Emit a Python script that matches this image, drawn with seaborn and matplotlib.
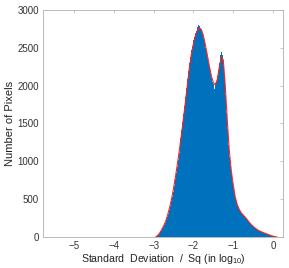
"""Histogram of log10 standard deviation / Sq with fitted curve."""

import matplotlib
matplotlib.use("Agg")
import matplotlib.pyplot as plt
import numpy as np
import pandas as pd
import seaborn as sns

# Histogram: bin edges (width 0.025) and counts per bin
bin_start = -2.95
bin_width = 0.025
counts = [
    5, 12, 25, 40, 60, 82, 105, 132, 158, 190,
    222, 262, 305, 360, 412, 470, 530, 600, 676, 760,
    840, 930, 1020, 1115, 1210, 1310, 1410, 1520, 1625, 1735,
    1850, 1965, 2085, 2190, 2300, 2380, 2470, 2520, 2600, 2640,
    2700, 2720, 2770, 2800, 2790, 2760, 2730, 2680, 2630, 2580,
    2500, 2440, 2370, 2300, 2230, 2160, 2100, 2050, 2020, 1960,
    2030, 2060, 2130, 2210, 2300, 2400, 2450, 2410, 2260, 2110,
    1880, 1640, 1420, 1220, 1060, 940, 830, 730, 640, 570,
    500, 455, 415, 380, 355, 330, 312, 298, 283, 270,
    254, 238, 222, 204, 188, 172, 158, 146, 134, 123,
    112, 102, 94, 86, 79, 73, 67, 61, 55, 50,
    45, 40, 35, 30, 25, 20, 15, 11, 7, 5,
    3, 2, 1,
]

# Fitted curve (red)
fit_x = [
    -2.95, -2.90, -2.85, -2.80, -2.75, -2.70, -2.65, -2.60, -2.55, -2.50,
    -2.45, -2.40, -2.35, -2.30, -2.25, -2.20, -2.15, -2.10, -2.05, -2.00,
    -1.95, -1.90, -1.85, -1.80, -1.75, -1.70, -1.65, -1.60, -1.55, -1.50,
    -1.45, -1.40, -1.35, -1.30, -1.25, -1.20, -1.15, -1.10, -1.05, -1.00,
    -0.95, -0.90, -0.85, -0.80, -0.75, -0.70, -0.65, -0.60, -0.55, -0.50,
    -0.45, -0.40, -0.35, -0.30, -0.25, -0.20, -0.15, -0.10, -0.05, 0.00,
    0.05, 0.10,
]
fit_y = [
    0, 18, 50, 95, 145, 205, 285, 385, 500, 640,
    800, 975, 1160, 1360, 1570, 1790, 2020, 2240, 2420, 2550,
    2660, 2730, 2760, 2740, 2660, 2540, 2400, 2260, 2130, 2040,
    2010, 2080, 2240, 2380, 2340, 2000, 1550, 1150, 880, 690,
    530, 430, 365, 320, 290, 262, 230, 195, 165, 140,
    118, 97, 82, 70, 58, 48, 38, 28, 18, 10,
    4, 0,
]

x_ticks = [-5, -4, -3, -2, -1, 0]
y_ticks = [0, 500, 1000, 1500, 2000, 2500, 3000]

sns.set_style("white")
plt.rcParams.update({
    "font.family": ["Liberation Sans", "DejaVu Sans"],
    "mathtext.fontset": "custom",
    "mathtext.rm": "Liberation Sans",
    "mathtext.it": "Liberation Sans",
    "font.size": 7,
})

edges = np.round(bin_start + bin_width * np.arange(len(counts) + 1), 4)
hist_df = pd.DataFrame({
    "value": (edges[:-1] + edges[1:]) / 2,
    "count": counts,
})
fit_df = pd.DataFrame({"x": fit_x, "y": fit_y})

fig = plt.figure(figsize=(2.89, 2.68), dpi=100)
ax = fig.add_axes([0.149, 0.116, 0.830, 0.847])

sns.histplot(data=hist_df, x="value", weights="count", bins=list(edges),
             element="step", fill=True, color="#0072BD", alpha=1,
             linewidth=0, ax=ax)
sns.lineplot(data=fit_df, x="x", y="y", color="#FF2020", linewidth=0.8, ax=ax)

ax.set_xlim(-5.78, 0.25)
ax.set_ylim(0, 3000)
ax.set_xticks(x_ticks)
ax.set_yticks(y_ticks)
ax.tick_params(direction="in", length=2.5, width=0.5, top=True, right=True,
               colors="#b0b0b0", labelcolor="#333333", labelsize=7, pad=3)
for spine in ax.spines.values():
    spine.set_visible(True)
    spine.set_color("#b0b0b0")
    spine.set_linewidth(0.6)

ax.set_xlabel("Standard  Deviation  /  Sq (in log$_{10}$)", fontsize=7.6,
              color="#222222", labelpad=1)
ax.set_ylabel("Number of Pixels", fontsize=8, color="#222222", labelpad=2)

fig.savefig("out.png", dpi=100)
plt.close(fig)
